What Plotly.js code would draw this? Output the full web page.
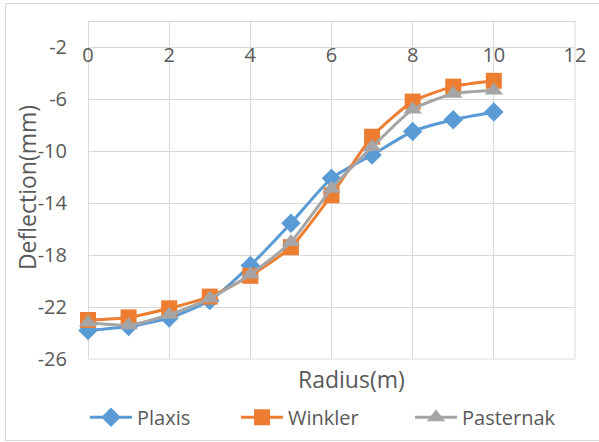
<!DOCTYPE html>
<html>
<head>
<meta charset="utf-8">
<script src="https://cdn.plot.ly/plotly-3.0.1.min.js"></script>
<style>
html,body{margin:0;padding:0;background:#fff;}
#wrap{position:relative;width:599px;height:442px;overflow:hidden;}
#chart{position:absolute;left:0;top:0;width:599px;height:442px;}
#frame{position:absolute;left:5px;top:3px;width:620px;height:436px;border:1px solid #d9d9d9;pointer-events:none;}
</style>
</head>
<body>
<div id="wrap"><div id="chart"></div><div id="frame"></div></div>
<script>
const radius = [0, 1, 2, 3, 4, 5, 6, 7, 8, 9, 10];
const plaxis    = [-23.8, -23.5, -22.85, -21.5, -18.8, -15.55, -12.1, -10.3, -8.5, -7.6, -7.0];
const winkler   = [-23.0, -22.8, -22.1, -21.2, -19.6, -17.4, -13.4, -8.9, -6.2, -5.05, -4.6];
const pasternak = [-23.2, -23.4, -22.6, -21.35, -19.5, -17.0, -12.9, -9.7, -6.8, -5.6, -5.35];
const seriesNames = ["Plaxis", "Winkler", "Pasternak"];
const xTickVals = [0, 2, 4, 6, 8, 10, 12];
const yTickVals = [-2, -6, -10, -14, -18, -22, -26];

const colors = ["#5B9BD5", "#ED7D31", "#A5A5A5"];
const symbols = ["diamond", "square", "triangle-up"];
const sizes = [15, 16, 16];
const legendIds = ["legend", "legend2", "legend3"];
const ys = [plaxis, winkler, pasternak];

const traces = ys.map((y, i) => ({
  x: radius, y: y, name: seriesNames[i], type: "scatter", mode: "lines+markers",
  legend: legendIds[i], cliponaxis: false,
  line: {color: colors[i], width: 3, shape: "spline", smoothing: 0.6},
  marker: {color: colors[i], symbol: symbols[i], size: sizes[i], line: {width: 0}}
}));

const font = {family: "Open Sans, sans-serif", color: "#595959"};
const legFont = {family: font.family, color: font.color, size: 20};
// legend left edges in paper coords (plot area x from 88px to 575px)
const legX = [(85 - 88) / 487, (236 - 88) / 487, (410 - 88) / 487];
function leg(i) {
  return {orientation: "h", x: legX[i], xanchor: "left", y: -0.172, yanchor: "middle",
          font: legFont, bgcolor: "rgba(0,0,0,0)", itemwidth: 42};
}
const layout = {
  width: 599, height: 442,
  margin: {l: 88, r: 24, t: 21, b: 83, autoexpand: false},
  paper_bgcolor: "#fff", plot_bgcolor: "#fff",
  showlegend: true,
  legend: leg(0), legend2: leg(1), legend3: leg(2),
  xaxis: {range: [0, 12], tickvals: xTickVals, ticktext: xTickVals.map(String),
          anchor: "free", position: 0.94, side: "bottom",
          showgrid: true, gridcolor: "#d9d9d9", gridwidth: 1,
          zeroline: true, zerolinecolor: "#d9d9d9", zerolinewidth: 1,
          showline: false, ticks: "", tickfont: {family: font.family, color: font.color, size: 20}},
  yaxis: {range: [-26, 0], tickvals: yTickVals, ticktext: yTickVals.map(String),
          showgrid: true, gridcolor: "#d9d9d9", gridwidth: 1,
          zeroline: true, zerolinecolor: "#d9d9d9", zerolinewidth: 1,
          showline: false, ticks: "", ticklabelstandoff: 20,
          tickfont: {family: font.family, color: font.color, size: 20}},
  shapes: [
    {type: "line", xref: "paper", yref: "paper", x0: 1, x1: 1, y0: 0, y1: 1, line: {color: "#d9d9d9", width: 1}},
    {type: "line", xref: "paper", yref: "paper", x0: 0, x1: 1, y0: 0, y1: 0, line: {color: "#d9d9d9", width: 1}}
  ],
  annotations: [
    {text: "Radius(m)", xref: "paper", yref: "paper", x: 0.542, y: -0.059, xanchor: "center", yanchor: "middle",
     showarrow: false, font: {family: font.family, color: font.color, size: 23}},
    {text: "Deflection(mm)", xref: "paper", yref: "paper", x: -0.125, y: 0.506, xanchor: "center", yanchor: "middle",
     textangle: -90, showarrow: false, font: {family: font.family, color: font.color, size: 23}}
  ]
};
Plotly.newPlot("chart", traces, layout, {displayModeBar: false, staticPlot: true});
</script>
</body>
</html>
